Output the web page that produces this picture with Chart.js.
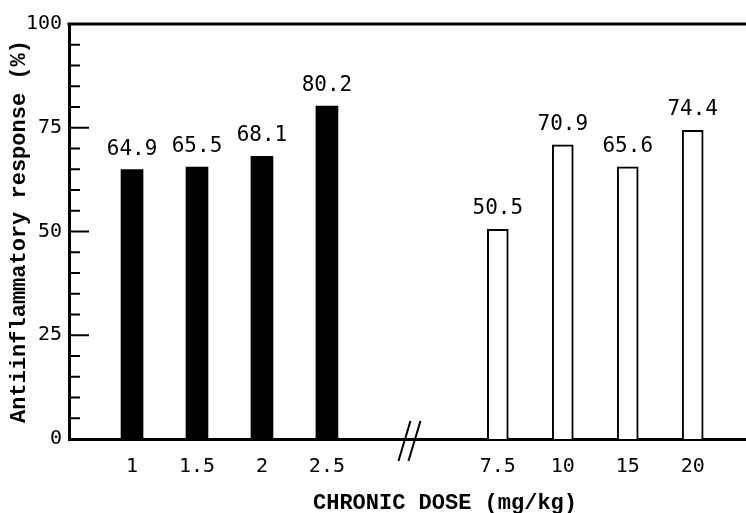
<!DOCTYPE html>
<html>
<head>
<meta charset="utf-8">
<script src="https://cdn.jsdelivr.net/npm/chart.js@4/dist/chart.umd.min.js"></script>
<style>
  html, body { margin: 0; padding: 0; background: #fff; }
  #wrap { width: 746px; height: 513px; position: relative; }
</style>
</head>
<body>
<div id="wrap"><canvas id="chart" width="746" height="513"></canvas></div>
<script>
// Data
const acuteDoses = ['1', '1.5', '2', '2.5'];
const acuteValues = [64.9, 65.5, 68.1, 80.2];
const chronicDoses = ['7.5', '10', '15', '20'];
const chronicValues = [50.5, 70.9, 65.6, 74.4];
const yTicks = [0, 25, 50, 75, 100];

// slot layout on the x axis: second group is shifted past the axis break
const GROUP_GAP = 5.63;
const BREAK_AT = 4.27;

const allLabels = acuteDoses.concat(chronicDoses);
const slotOf = (grp, i) => grp === 0 ? i : GROUP_GAP + i;

const numFont = '"DejaVu Sans Mono", monospace';
const titleFont = '"Liberation Mono", "Courier New", monospace';

// draw inward ticks, top frame line, axis break and titles
const decorations = {
    id: 'decorations',
    afterDraw(chart) {
        const { ctx, chartArea, scales } = chart;
        const y = scales.y, x = scales.x;
        ctx.save();
        ctx.strokeStyle = '#000';

        // top frame line at 100
        ctx.lineWidth = 3;
        ctx.beginPath();
        ctx.moveTo(chartArea.left - 1.5, y.getPixelForValue(100));
        ctx.lineTo(chartArea.right, y.getPixelForValue(100));
        ctx.stroke();

        // inward tick marks every 5
        ctx.lineWidth = 2;
        for (let v = 5; v < 100; v += 5) {
            const py = y.getPixelForValue(v);
            const len = v % 25 === 0 ? 20 : 11;
            ctx.beginPath();
            ctx.moveTo(chartArea.left, py);
            ctx.lineTo(chartArea.left + len, py);
            ctx.stroke();
        }

        // axis break //
        const bx = x.getPixelForValue(BREAK_AT);
        const by = y.getPixelForValue(0);
        ctx.lineWidth = 2;
        [-5, 5].forEach(dx => {
            ctx.beginPath();
            ctx.moveTo(bx + dx - 6, by + 22);
            ctx.lineTo(bx + dx + 6, by - 18);
            ctx.stroke();
        });

        // axis titles
        ctx.fillStyle = '#000';
        ctx.font = 'bold 22px ' + titleFont;
        ctx.textAlign = 'center';
        ctx.textBaseline = 'middle';
        ctx.fillText('CHRONIC DOSE (mg/kg)', 445, 503);
        ctx.translate(19, (chartArea.top + chartArea.bottom) / 2);
        ctx.rotate(-Math.PI / 2);
        ctx.fillText('Antiinflammatory response (%)', 0, 0);
        ctx.restore();

        // value labels above bars
        ctx.save();
        ctx.fillStyle = '#000';
        ctx.font = '21px ' + numFont;
        ctx.textAlign = 'center';
        ctx.textBaseline = 'bottom';
        chart.data.datasets.forEach((ds, di) => {
            chart.getDatasetMeta(di).data.forEach((bar, i) => {
                ctx.fillText(ds.data[i].y.toFixed(1), bar.x, bar.y - 10);
            });
        });
        ctx.restore();
    }
};

new Chart(document.getElementById('chart'), {
    type: 'bar',
    data: {
        datasets: [
            {
                label: 'acute',
                data: acuteValues.map((v, i) => ({ x: slotOf(0, i), y: v })),
                backgroundColor: '#000',
                borderColor: '#000',
                borderWidth: 0,
                barThickness: 22
            },
            {
                label: 'chronic',
                data: chronicValues.map((v, i) => ({ x: slotOf(1, i), y: v })),
                backgroundColor: '#fff',
                borderColor: '#000',
                borderWidth: 2,
                barThickness: 21
            }
        ]
    },
    options: {
        responsive: false,
        animation: false,
        events: [],
        grouped: false,
        layout: { padding: { top: 24, right: 0, left: 0, bottom: 0 } },
        plugins: { legend: { display: false }, tooltip: { enabled: false } },
        scales: {
            x: {
                type: 'linear',
                min: -0.97,
                max: 9.45,
                offset: false,
                grid: { display: false, drawTicks: false },
                border: { display: true, color: '#000', width: 3 },
                afterBuildTicks(scale) {
                    scale.ticks = allLabels.map((_, i) => ({ value: i < 4 ? slotOf(0, i) : slotOf(1, i - 4) }));
                },
                afterFit(scale) { scale.height = 74; },
                ticks: {
                    autoSkip: false,
                    maxRotation: 0,
                    padding: 16,
                    color: '#000',
                    font: { family: numFont, size: 20 },
                    callback(value, idx) { return allLabels[idx]; }
                }
            },
            y: {
                min: 0,
                max: 100,
                grid: { display: false, drawTicks: false },
                border: { display: true, color: '#000', width: 3 },
                afterBuildTicks(scale) {
                    scale.ticks = yTicks.map(v => ({ value: v }));
                },
                afterFit(scale) { scale.width = 69; },
                ticks: {
                    padding: 7,
                    color: '#000',
                    font: { family: numFont, size: 20 }
                }
            }
        }
    },
    plugins: [decorations]
});
</script>
</body>
</html>
